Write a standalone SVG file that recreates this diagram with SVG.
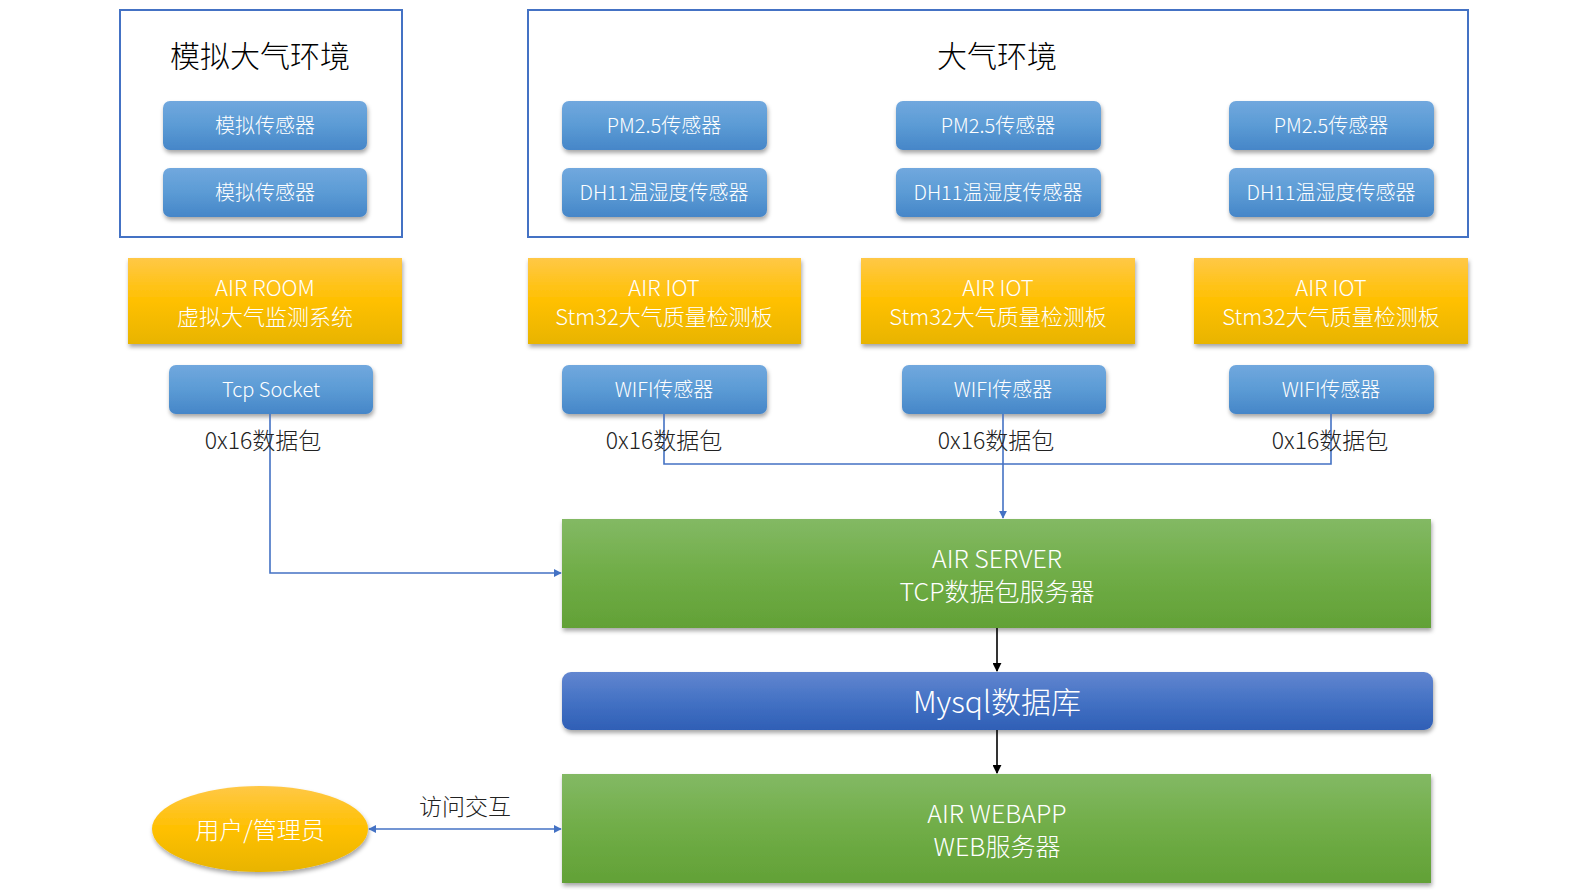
<svg xmlns="http://www.w3.org/2000/svg" width="1594" height="890" viewBox="0 0 1594 890">
<defs>
<linearGradient id="gBlue" x1="0" y1="0" x2="0" y2="1"><stop offset="0" stop-color="#71a8de"/><stop offset="0.5" stop-color="#5b9bd5"/><stop offset="1" stop-color="#4686c8"/></linearGradient>
<linearGradient id="gYellow" x1="0" y1="0" x2="0" y2="1"><stop offset="0" stop-color="#ffc846"/><stop offset="0.5" stop-color="#ffc000"/><stop offset="1" stop-color="#e8b400"/></linearGradient>
<linearGradient id="gGreen" x1="0" y1="0" x2="0" y2="1"><stop offset="0" stop-color="#83b964"/><stop offset="0.5" stop-color="#70ad47"/><stop offset="1" stop-color="#62a136"/></linearGradient>
<linearGradient id="gDb" x1="0" y1="0" x2="0" y2="1"><stop offset="0" stop-color="#6286d0"/><stop offset="0.5" stop-color="#4472c4"/><stop offset="1" stop-color="#2f5fb6"/></linearGradient>
<filter id="sh" x="-10%" y="-20%" width="120%" height="150%"><feDropShadow dx="1" dy="3" stdDeviation="2" flood-color="#000" flood-opacity="0.35"/></filter>
<marker id="aBlue" viewBox="0 0 10 10" refX="9" refY="5" markerWidth="8" markerHeight="8" orient="auto-start-reverse" markerUnits="userSpaceOnUse"><path d="M0,0 L10,5 L0,10 z" fill="#4472c4"/></marker>
<marker id="aBlack" viewBox="0 0 10 10" refX="9" refY="5" markerWidth="9" markerHeight="9" orient="auto" markerUnits="userSpaceOnUse"><path d="M0,0 L10,5 L0,10 z" fill="#000"/></marker>
</defs>
<style>
text{font-family:"Noto Sans CJK SC","Noto Sans",sans-serif;font-weight:300;text-anchor:middle;dominant-baseline:central}
.frame{fill:#fff;stroke:#4472c4;stroke-width:2}
.btn{fill:url(#gBlue);filter:url(#sh)}
.yel{fill:url(#gYellow);filter:url(#sh)}
.grn{fill:url(#gGreen);filter:url(#sh)}
.db{fill:url(#gDb);filter:url(#sh)}
.wt{fill:#fff}
.s19{font-size:20px}
.s22{font-size:22px}
.s24{font-size:24px}
.s25{font-size:25px}
.s28{font-size:30px}
.title{font-size:30px;fill:#000}
.lbl{font-size:23px;fill:#222}
.conn{fill:none;stroke:#4472c4;stroke-width:1.6}
.connk{fill:none;stroke:#000;stroke-width:1.6}
</style>

<g id="frame-sim">
<rect class="frame" x="120" y="10" width="282" height="227"/>
<text class="title" x="260" y="54">模拟大气环境</text>
</g>
<g id="frame-air">
<rect class="frame" x="528" y="10" width="940" height="227"/>
<text class="title" x="997" y="54">大气环境</text>
</g>

<g id="sim-sensor-1"><rect class="btn" x="163" y="101" width="204" height="49" rx="7"/><text class="wt s19" x="265" y="124">模拟传感器</text></g>
<g id="sim-sensor-2"><rect class="btn" x="163" y="168" width="204" height="49" rx="7"/><text class="wt s19" x="265" y="191">模拟传感器</text></g>

<g id="pm-1"><rect class="btn" x="562" y="101" width="205" height="49" rx="7"/><text class="wt s19" x="664" y="124">PM2.5传感器</text></g>
<g id="dh-1"><rect class="btn" x="562" y="168" width="205" height="49" rx="7"/><text class="wt s19" x="664" y="191">DH11温湿度传感器</text></g>
<g id="pm-2"><rect class="btn" x="896" y="101" width="205" height="49" rx="7"/><text class="wt s19" x="998" y="124">PM2.5传感器</text></g>
<g id="dh-2"><rect class="btn" x="896" y="168" width="205" height="49" rx="7"/><text class="wt s19" x="998" y="191">DH11温湿度传感器</text></g>
<g id="pm-3"><rect class="btn" x="1229" y="101" width="205" height="49" rx="7"/><text class="wt s19" x="1331" y="124">PM2.5传感器</text></g>
<g id="dh-3"><rect class="btn" x="1229" y="168" width="205" height="49" rx="7"/><text class="wt s19" x="1331" y="191">DH11温湿度传感器</text></g>

<g id="air-room"><rect class="yel" x="128" y="258" width="274" height="86"/><text class="wt s22" x="265" y="286">AIR ROOM</text><text class="wt s22" x="265" y="315">虚拟大气监测系统</text></g>
<g id="air-iot-1"><rect class="yel" x="528" y="258" width="273" height="86"/><text class="wt s22" x="664" y="286">AIR IOT</text><text class="wt s22" x="664" y="315">Stm32大气质量检测板</text></g>
<g id="air-iot-2"><rect class="yel" x="861" y="258" width="274" height="86"/><text class="wt s22" x="998" y="286">AIR IOT</text><text class="wt s22" x="998" y="315">Stm32大气质量检测板</text></g>
<g id="air-iot-3"><rect class="yel" x="1194" y="258" width="274" height="86"/><text class="wt s22" x="1331" y="286">AIR IOT</text><text class="wt s22" x="1331" y="315">Stm32大气质量检测板</text></g>

<g id="tcp-socket"><rect class="btn" x="169" y="365" width="204" height="49" rx="7"/><text class="wt s19" x="271" y="388">Tcp Socket</text></g>
<g id="wifi-1"><rect class="btn" x="562" y="365" width="205" height="49" rx="7"/><text class="wt s19" x="664" y="388">WIFI传感器</text></g>
<g id="wifi-2"><rect class="btn" x="902" y="365" width="204" height="49" rx="7"/><text class="wt s19" x="1003" y="388">WIFI传感器</text></g>
<g id="wifi-3"><rect class="btn" x="1229" y="365" width="205" height="49" rx="7"/><text class="wt s19" x="1331" y="388">WIFI传感器</text></g>

<g id="air-server"><rect class="grn" x="562" y="519" width="869" height="109"/><text class="wt s25" x="997" y="557">AIR SERVER</text><text class="wt s25" x="997" y="590">TCP数据包服务器</text></g>
<g id="mysql"><rect class="db" x="562" y="672" width="871" height="58" rx="9"/><text class="wt s28" x="997" y="700">Mysql数据库</text></g>
<g id="air-webapp"><rect class="grn" x="562" y="774" width="869" height="109"/><text class="wt s25" x="997" y="812">AIR WEBAPP</text><text class="wt s25" x="997" y="845">WEB服务器</text></g>
<g id="user"><ellipse cx="260" cy="829" rx="108" ry="43" fill="url(#gYellow)" filter="url(#sh)"/><text class="wt s24" x="260" y="828">用户/管理员</text></g>

<g id="connectors">
<path class="conn" d="M270,414 V573 H561" marker-end="url(#aBlue)"/>
<path class="conn" d="M664,414 V464 H1331 V414"/>
<path class="conn" d="M1003,414 V518" marker-end="url(#aBlue)"/>
<path class="connk" d="M997,628 V671" marker-end="url(#aBlack)"/>
<path class="connk" d="M997,730 V773" marker-end="url(#aBlack)"/>
<path class="conn" d="M369,829 H561" marker-start="url(#aBlue)" marker-end="url(#aBlue)"/>
<text class="lbl" x="263" y="439">0x16数据包</text>
<text class="lbl" x="664" y="439">0x16数据包</text>
<text class="lbl" x="996" y="439">0x16数据包</text>
<text class="lbl" x="1330" y="439">0x16数据包</text>
<text class="lbl" x="465" y="805">访问交互</text>
</g>
</svg>
